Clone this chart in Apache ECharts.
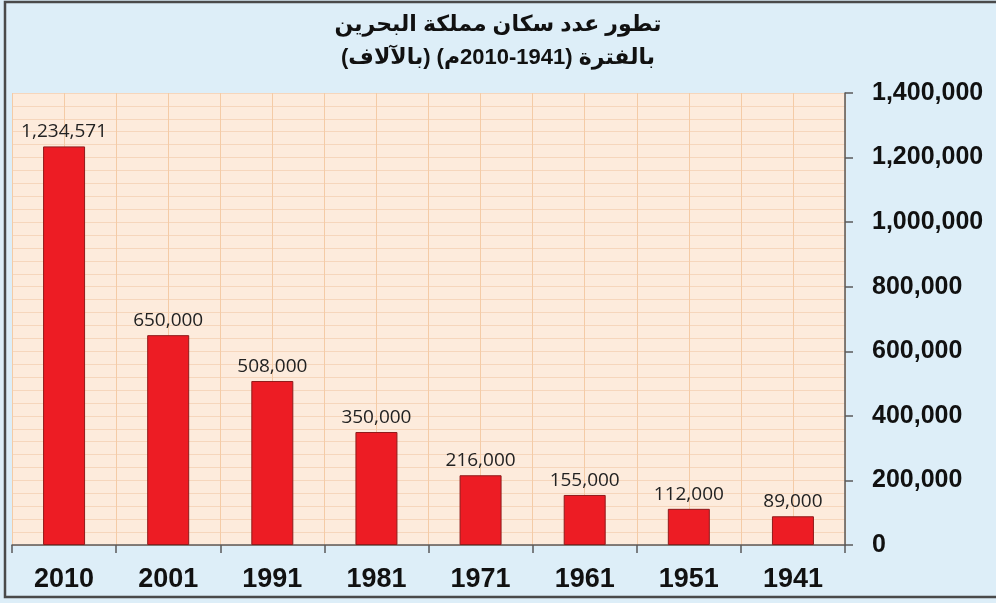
<!DOCTYPE html>
<html>
<head>
<meta charset="utf-8">
<script src="https://cdn.jsdelivr.net/npm/echarts@6/dist/echarts.min.js"></script>
<style>
html, body { margin: 0; padding: 0; }
#chart { width: 996px; height: 603px; }
</style>
</head>
<body>
<div id="chart" dir="rtl"></div>
<script>
// السنوات والقيم
const years = ['2010', '2001', '1991', '1981', '1971', '1961', '1951', '1941'];
const population = [1234571, 650000, 508000, 350000, 216000, 155000, 112000, 89000];
const titleLines = ['تطور عدد سكان مملكة البحرين', 'بالفترة (1941-2010م) (بالآلاف)'];

const dom = document.getElementById('chart');
const myChart = echarts.init(dom);

function fmt(v) {
	return String(v).replace(/\B(?=(\d{3})+(?!\d))/g, ',');
}

const option = {
	backgroundColor: '#DDEEF8',
	animation: false,
	title: {
		text: titleLines.join('\n'),
		left: 'center',
		top: 3,
		textStyle: {
			fontFamily: 'Arial, "DejaVu Sans"',
			fontSize: 22,
			fontWeight: 'bold',
			lineHeight: 33,
			color: '#111'
		}
	},
	graphic: [{
		type: 'rect',
		shape: { x: 5, y: 2, width: 1000, height: 595 },
		style: { fill: 'none', stroke: '#4a4a4a', lineWidth: 2.5 },
		silent: true
	}],
	grid: {
		left: 12,
		right: 151,
		top: 93,
		bottom: 58,
		show: true,
		backgroundColor: '#FDEBDC',
		borderWidth: 0
	},
	xAxis: [{
		type: 'category',
		data: years,
		axisLine: { onZero: false, lineStyle: { color: '#595959', width: 1.5 } },
		axisTick: { show: true, length: 8, lineStyle: { color: '#595959', width: 1.5 } },
		axisLabel: {
			margin: 21,
			fontFamily: 'Arial',
			fontSize: 27,
			fontWeight: 'bold',
			color: '#111'
		},
		splitLine: { show: false }
	}, {
		// خطوط الشبكة العمودية
		type: 'value',
		min: 0,
		max: 8,
		interval: 0.5,
		axisLine: { show: false },
		axisTick: { show: false },
		axisLabel: { show: false },
		splitLine: { show: true, lineStyle: { color: '#F4CBA6', width: 1 } }
	}],
	yAxis: {
		type: 'value',
		position: 'right',
		min: 0,
		max: 1400000,
		interval: 200000,
		axisLine: { show: true, onZero: false, lineStyle: { color: '#595959', width: 1.5 } },
		axisTick: { show: true, length: 8, lineStyle: { color: '#595959', width: 1.5 } },
		axisLabel: {
			margin: 27,
			fontFamily: 'Arial',
			fontSize: 25,
			fontWeight: 'bold',
			color: '#111',
			formatter: fmt
		},
		splitLine: { show: true, lineStyle: { color: '#F6D6BC', width: 1 } },
		minorTick: { show: false, splitNumber: 5 },
		minorSplitLine: { show: true, lineStyle: { color: '#F6D6BC', width: 1 } }
	},
	series: [{
		type: 'bar',
		xAxisIndex: 0,
		data: population,
		barWidth: 42,
		itemStyle: { color: '#ED1C24', borderColor: '#8E1B1B', borderWidth: 1 },
		label: {
			show: true,
			position: 'top',
			distance: 5,
			fontFamily: '"Open Sans"',
			fontSize: 19,
			color: '#222',
			formatter: function(p) {
				return fmt(p.value);
			}
		}
	}]
};

myChart.setOption(option);
</script>
</body>
</html>
